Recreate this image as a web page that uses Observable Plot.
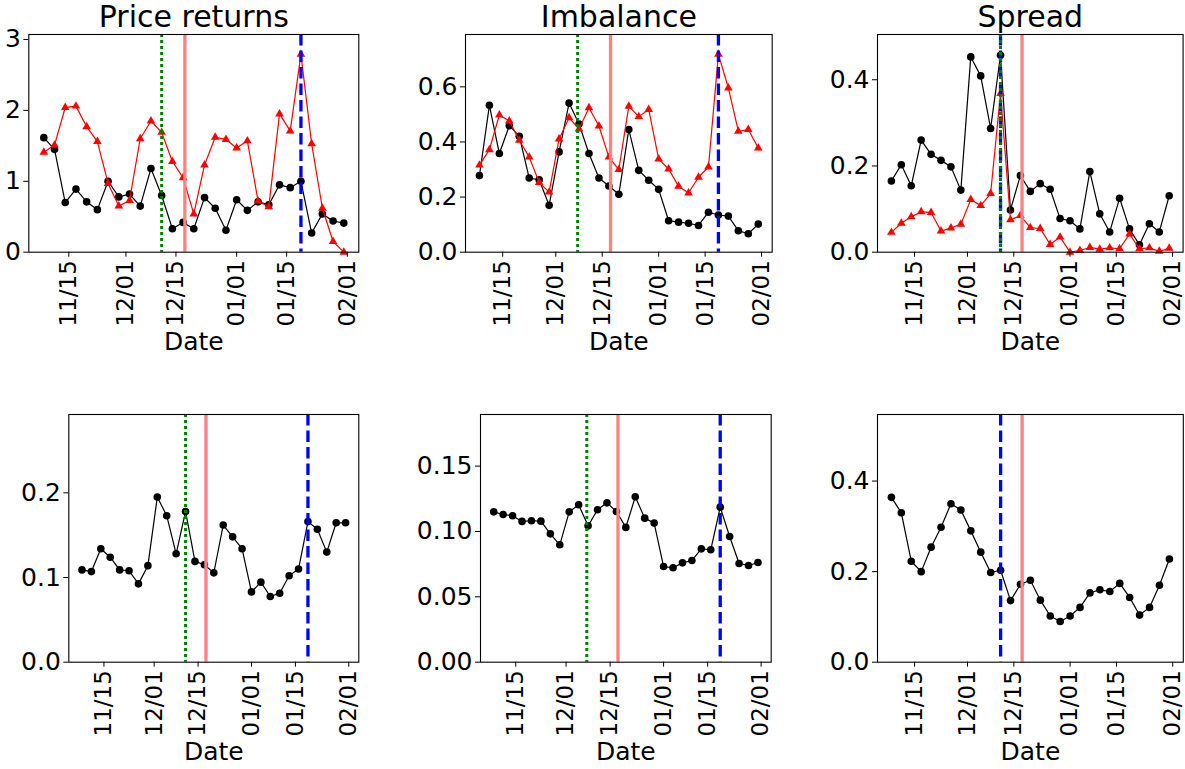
<!DOCTYPE html>
<html><head><meta charset="utf-8">
<script src="https://cdn.jsdelivr.net/npm/d3@7"></script>
<script src="https://cdn.jsdelivr.net/npm/@observablehq/plot@0.6"></script>
<style>
html,body{margin:0;padding:0;background:#fff;overflow:hidden}
#root{position:relative;width:1185px;height:769px;overflow:hidden}
</style></head><body><div id="root"></div>
<script>
// ---- data ----
const dateStrings = ["2018-11-08","2018-11-11","2018-11-14","2018-11-17","2018-11-20","2018-11-23","2018-11-26","2018-11-29",
  "2018-12-02","2018-12-05","2018-12-08","2018-12-11","2018-12-14","2018-12-17","2018-12-20","2018-12-23","2018-12-26","2018-12-29",
  "2019-01-01","2019-01-04","2019-01-07","2019-01-10","2019-01-13","2019-01-16","2019-01-19","2019-01-22","2019-01-25","2019-01-28","2019-01-31"];
const xTickStrings = ["2018-11-15","2018-12-01","2018-12-15","2019-01-01","2019-01-15","2019-02-01"];
const titles = ["Price returns","Imbalance","Spread"];

const priceBlack = [1.615,1.45,0.70,0.89,0.71,0.60,1.00,0.78,0.82,0.65,1.18,0.80,0.33,0.42,0.33,0.77,0.62,0.31,0.74,0.59,0.71,0.67,0.95,0.91,1.00,0.27,0.54,0.44,0.41];
const priceRed   = [1.41,1.51,2.04,2.06,1.77,1.56,0.97,0.65,0.73,1.60,1.85,1.69,1.28,1.05,0.54,1.23,1.62,1.59,1.47,1.57,0.72,0.64,1.95,1.71,2.79,1.53,0.62,0.15,0.00];
const imbBlack   = [0.278,0.533,0.358,0.459,0.421,0.269,0.263,0.170,0.364,0.541,0.465,0.358,0.269,0.240,0.210,0.445,0.297,0.261,0.228,0.114,0.109,0.105,0.097,0.145,0.135,0.131,0.078,0.067,0.102];
const imbRed     = [0.316,0.372,0.498,0.476,0.406,0.345,0.253,0.218,0.411,0.488,0.447,0.524,0.458,0.345,0.300,0.530,0.492,0.518,0.338,0.302,0.239,0.215,0.272,0.309,0.718,0.596,0.439,0.445,0.378];
const sprBlack   = [0.165,0.203,0.154,0.260,0.227,0.213,0.198,0.144,0.453,0.409,0.287,0.457,0.098,0.178,0.141,0.159,0.146,0.078,0.073,0.054,0.187,0.089,0.047,0.125,0.054,0.017,0.066,0.047,0.131];
const sprRed     = [0.046,0.067,0.082,0.094,0.092,0.049,0.056,0.065,0.122,0.108,0.136,0.368,0.075,0.085,0.057,0.055,0.018,0.035,0.000,0.004,0.011,0.007,0.010,0.008,0.042,0.008,0.010,0.002,0.009];
const priceLow   = [0.109,0.107,0.134,0.124,0.109,0.108,0.0925,0.114,0.195,0.173,0.128,0.178,0.119,0.115,0.1055,0.162,0.148,0.134,0.083,0.0945,0.0776,0.0815,0.102,0.110,0.166,0.157,0.130,0.1646,0.1646];
const imbLow     = [0.115,0.113,0.112,0.1077,0.1082,0.1079,0.0982,0.0898,0.115,0.1204,0.1043,0.1166,0.1219,0.1153,0.1031,0.1265,0.1102,0.1064,0.0732,0.0722,0.076,0.0778,0.0867,0.086,0.1186,0.0962,0.0755,0.074,0.0763];
const sprLow     = [0.364,0.330,0.223,0.200,0.254,0.298,0.350,0.336,0.290,0.243,0.198,0.203,0.136,0.172,0.181,0.137,0.102,0.090,0.102,0.121,0.153,0.160,0.156,0.174,0.143,0.104,0.121,0.170,0.228];

const eventGreen = "2018-12-11T00:00Z";
const eventGreenImb = "2018-12-07T14:00Z";
const eventRed = "2018-12-17T12:00Z";
const eventBlue = "2019-01-19T00:00Z";
const eventBlueSpread = "2018-12-11T00:00Z";

// ---- build ----
const FONT = "'DejaVu Sans', sans-serif";
const dates = dateStrings.map(s => new Date(s));
const xTicks = xTickStrings.map(s => new Date(s));
const xDomain = [new Date("2018-11-03T19:12Z"), new Date("2019-02-04T04:48Z")];
const toRows = vals => vals.map((v, i) => ({date: dates[i], v}));

const panels = [
  {title: titles[0], frame: [28.3, 358.3, 34.3, 252], ymax: 3.07, yticks: [0,1,2,3], yfmt: d3.format("d"), black: priceBlack, red: priceRed, green: eventGreen, blue: eventBlue},
  {title: titles[1], frame: [465, 771.7, 34.3, 252], ymax: 0.79, yticks: [0,0.2,0.4,0.6], yfmt: d3.format(".1f"), black: imbBlack, red: imbRed, green: eventGreenImb, blue: eventBlue},
  {title: titles[2], frame: [876.7, 1182.3, 34.3, 252], ymax: 0.505, yticks: [0,0.2,0.4], yfmt: d3.format(".1f"), black: sprBlack, red: sprRed, blue: eventBlueSpread, green: eventGreen},
  {frame: [68.3, 358.3, 414, 661.7], ymax: 0.2925, yticks: [0,0.1,0.2], yfmt: d3.format(".1f"), black: priceLow, green: eventGreen, blue: eventBlue},
  {frame: [480.3, 771, 414, 661.7], ymax: 0.1895, yticks: [0,0.05,0.10,0.15], yfmt: d3.format(".2f"), black: imbLow, green: eventGreenImb, blue: eventBlue},
  {frame: [876.7, 1182.5, 414, 661.7], ymax: 0.547, yticks: [0,0.2,0.4], yfmt: d3.format(".1f"), black: sprLow, blue: eventBlueSpread}
];

const root = document.getElementById("root");
for (const p of panels) {
  const [x1, x2, y1, y2] = p.frame;
  const mL = Math.min(70, x1), mR = 6, mT = 40, mB = 110;
  const fw = x2 - x1, fh = y2 - y1;
  const marks = [];
  marks.push(Plot.line(toRows(p.black), {x: "date", y: "v", stroke: "black", strokeWidth: 1.2}));
  marks.push(Plot.dot(toRows(p.black), {x: "date", y: "v", r: 3.8, fill: "black", stroke: "none"}));
  if (p.red) {
    marks.push(Plot.line(toRows(p.red), {x: "date", y: "v", stroke: "red", strokeWidth: 1.2}));
    marks.push(Plot.dot(toRows(p.red), {x: "date", y: "v", r: 3.2, symbol: "triangle", fill: "red", stroke: "none"}));
  }
  if (p.blue) marks.push(Plot.ruleX([new Date(p.blue)], {x: d => d, stroke: "blue", strokeWidth: 3.3, strokeDasharray: "11.5,5"}));
  if (p.green) marks.push(Plot.ruleX([new Date(p.green)], {x: d => d, stroke: "green", strokeWidth: 3, strokeDasharray: "3,3"}));
  marks.push(Plot.ruleX([new Date(eventRed)], {x: d => d, stroke: "#ff8080", strokeWidth: 3.3}));
  marks.push(Plot.frame({stroke: "black", strokeWidth: 1.1}));
  marks.push(Plot.axisY({ticks: p.yticks, tickFormat: p.yfmt, tickSize: 5, tickPadding: 3, label: null, fontSize: 25, fontFamily: FONT}));
  marks.push(Plot.axisX({ticks: xTicks, tickFormat: d3.utcFormat("%m/%d"), tickRotate: -90, tickSize: 5, tickPadding: 3, label: null, fontSize: 23, fontFamily: FONT}));
  marks.push(Plot.text(["Date"], {frameAnchor: "bottom", dy: 97.6, lineAnchor: "bottom", fontSize: 25, fontFamily: FONT}));
  if (p.title) marks.push(Plot.text([p.title], {frameAnchor: "top", dy: -7.3, lineAnchor: "bottom", fontSize: 30, fontFamily: FONT}));
  const svg = Plot.plot({
    width: mL + fw + mR, height: mT + fh + mB,
    marginLeft: mL, marginRight: mR, marginTop: mT, marginBottom: mB,
    x: {type: "utc", domain: xDomain},
    y: {type: "linear", domain: [0, p.ymax]},
    style: {fontSize: "25px", fontFamily: FONT, overflow: "visible", background: "transparent", color: "black"},
    marks
  });
  svg.style.position = "absolute";
  svg.style.left = (x1 - mL) + "px";
  svg.style.top = (y1 - mT) + "px";
  root.appendChild(svg);
}
</script></body></html>
